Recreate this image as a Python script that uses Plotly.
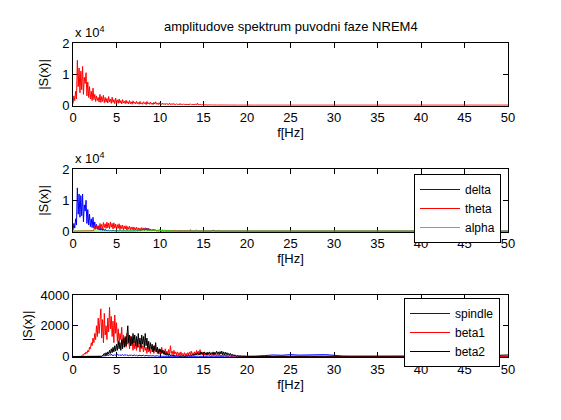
import numpy as np
import plotly.graph_objects as go

# frequency grid: fine 0.0-19.9 Hz (0.1 Hz step) + coarse tail 20-50 Hz (1 Hz step)
freq_fine = [round(i * 0.1, 1) for i in range(200)]
freq_tail = list(range(20, 51))
freq_hz = freq_fine + freq_tail

# ---------- panel 1: total spectrum ----------
total_fine = [
    500, 3000, 1500, 4500, 2000, 14500, 6000, 12000, 4000, 11000,
    5000, 12500, 3500, 9000, 7000, 10500, 3000, 7500, 2500, 6000,
    2000, 4500, 1500, 5500, 1800, 3500, 1200, 3000, 1500, 2500,
    1000, 3500, 900, 2800, 1200, 3200, 800, 2500, 1000, 2200,
    700, 2800, 1100, 2000, 600, 2600, 900, 1800, 500, 2300,
    800, 1700, 600, 2000, 700, 1500, 400, 1800, 700, 1300,
    500, 1600, 600, 1200, 400, 1500, 500, 1100, 300, 1400,
    600, 1000, 400, 1300, 500, 900, 300, 1200, 400, 800,
    300, 1100, 500, 900, 200, 1200, 400, 800, 300, 1000,
    300, 700, 200, 900, 400, 1100, 300, 700, 200, 800,
    300, 600, 200, 700, 300, 500, 150, 600, 250, 450,
    200, 700, 200, 400, 150, 600, 200, 350, 150, 500,
    200, 400, 100, 550, 150, 300, 100, 450, 150, 300,
    100, 400, 150, 250, 100, 350, 120, 250, 80, 400,
    100, 300, 80, 650, 100, 250, 80, 300, 60, 200,
    60, 150, 40, 120, 50, 100, 30, 90, 40, 80,
    30, 80, 20, 70, 30, 60, 20, 50, 20, 60,
    20, 50, 20, 40, 10, 50, 20, 40, 10, 30,
    20, 40, 10, 30, 20, 40, 10, 30, 10, 30,
    10, 30, 10, 20, 10, 30, 10, 20, 10, 20,
]
total_tail = [20, 10, 20, 10, 20, 10, 20, 10, 20, 10, 20, 10, 20, 10, 20, 10,
              20, 10, 20, 10, 20, 10, 20, 10, 20, 10, 20, 10, 20, 10, 20]

# ---------- panel 2: delta / theta / alpha ----------
delta_fine = [
    300, 2500, 1000, 4000, 2000, 14000, 5500, 12000, 4500, 11500,
    5000, 12000, 3000, 8500, 6500, 10000, 2500, 7000, 2000, 5500,
    1500, 4000, 1200, 4500, 1000, 3000, 800, 2200, 600, 1500,
    400, 1200, 300, 900, 200, 800, 150, 600, 100, 400,
    100, 300, 80, 250, 100, 200, 60, 250, 80, 150,
    60, 200, 50, 150, 80, 200, 40, 150, 60, 120,
    50, 150, 40, 120, 60, 150, 30, 100, 50, 120,
    40, 150, 50, 200, 60, 250, 80, 300, 100, 350,
    400, 900, 300, 1100, 500, 1000, 300, 800, 200, 600,
    150, 400, 100, 300, 80, 200, 50, 150, 40, 120,
    30, 80, 20, 60, 30, 50, 20, 40, 20, 40,
    20, 40, 10, 30, 20, 40, 10, 30, 20, 30,
    20, 30, 10, 30, 20, 30, 10, 20, 10, 30,
    10, 30, 10, 20, 10, 30, 10, 20, 10, 20,
    10, 20, 10, 30, 10, 20, 10, 20, 10, 20,
    10, 20, 10, 20, 10, 20, 10, 20, 10, 20,
    20, 350, 30, 60, 20, 40, 10, 30, 10, 20,
    10, 20, 10, 20, 10, 20, 10, 20, 10, 20,
    10, 20, 10, 20, 10, 20, 10, 20, 10, 20,
    10, 20, 10, 20, 10, 20, 10, 20, 10, 20,
]
delta_tail = [10] * 31

theta_fine = [
    0, 0, 0, 0, 0, 0, 0, 0, 0, 0,
    0, 0, 0, 0, 0, 0, 50, 0, 80, 0,
    50, 100, 50, 150, 300, 1500, 600, 2000, 800, 1800,
    500, 2500, 1000, 2200, 700, 2800, 1200, 2400, 900, 2900,
    1100, 2600, 800, 3000, 1300, 2500, 700, 2700, 1000, 2300,
    600, 2100, 900, 2400, 500, 1900, 800, 2000, 400, 1700,
    700, 1800, 300, 1500, 600, 1600, 400, 1300, 500, 1400,
    300, 1200, 400, 1300, 200, 1100, 400, 1000, 200, 1200,
    300, 900, 200, 1000, 300, 800, 150, 900, 200, 700,
    100, 600, 150, 700, 100, 500, 100, 400, 80, 500,
    50, 300, 60, 400, 50, 250, 40, 300, 50, 200,
    40, 350, 30, 200, 40, 150, 30, 250, 40, 150,
    30, 150, 20, 120, 30, 200, 20, 100, 30, 150,
    20, 100, 20, 150, 20, 500, 20, 100, 20, 80,
    20, 80, 300, 60, 20, 80, 20, 60, 20, 60,
    20, 50, 20, 60, 20, 40, 20, 50, 20, 40,
    20, 40, 20, 30, 20, 40, 20, 250, 20, 30,
    10, 30, 10, 20, 10, 30, 10, 20, 10, 20,
    10, 20, 10, 20, 10, 20, 10, 20, 10, 20,
    10, 20, 10, 20, 10, 20, 10, 20, 10, 20,
]
theta_tail = [10] * 31

alpha_fine = [
    0, 0, 0, 0, 0, 0, 0, 0, 0, 0,
    0, 0, 0, 0, 0, 0, 0, 0, 0, 0,
    0, 0, 0, 0, 0, 0, 0, 0, 0, 0,
    0, 0, 0, 0, 0, 0, 0, 0, 0, 0,
    0, 0, 0, 0, 0, 0, 0, 0, 0, 0,
    0, 0, 0, 0, 0, 0, 0, 0, 0, 0,
    0, 0, 0, 0, 0, 0, 0, 0, 0, 0,
    10, 10, 10, 10, 10, 10, 10, 10, 10, 10,
    20, 50, 30, 80, 40, 100, 50, 120, 40, 150,
    60, 200, 80, 300, 100, 250, 60, 350, 100, 300,
    80, 400, 100, 500, 150, 300, 80, 250, 60, 200,
    50, 150, 40, 100, 30, 80, 20, 60, 20, 40,
    20, 10, 20, 10, 20, 10, 20, 10, 20, 10,
    20, 10, 20, 10, 20, 10, 20, 10, 20, 10,
    20, 10, 20, 10, 20, 10, 20, 10, 20, 10,
    20, 10, 20, 10, 20, 10, 20, 10, 20, 10,
    20, 10, 20, 10, 20, 10, 20, 10, 20, 10,
    20, 10, 20, 10, 20, 10, 20, 10, 20, 10,
    20, 10, 20, 10, 20, 10, 20, 10, 20, 10,
    20, 10, 20, 10, 20, 10, 20, 10, 20, 10,
]
alpha_tail = [10] * 31

# ---------- panel 3: spindle / beta1 / beta2 ----------
spindle_fine = [
    0, 0, 0, 0, 0, 0, 0, 0, 0, 0,
    0, 0, 0, 0, 0, 0, 0, 0, 0, 0,
    0, 0, 0, 0, 0, 0, 0, 0, 0, 0,
    0, 0, 0, 20, 50, 30, 60, 40, 80, 50,
    100, 60, 120, 80, 150, 70, 100, 60, 120, 80,
    100, 150, 80, 120, 60, 100, 80, 130, 60, 100,
    80, 120, 60, 100, 50, 90, 70, 110, 50, 80,
    60, 100, 50, 80, 40, 70, 60, 90, 40, 70,
    50, 80, 40, 60, 30, 70, 40, 60, 30, 50,
    40, 60, 30, 50, 20, 40, 30, 50, 20, 30,
    20, 10, 20, 10, 20, 10, 20, 10, 20, 10,
    20, 10, 20, 10, 20, 10, 20, 10, 20, 10,
    20, 10, 20, 10, 20, 10, 20, 10, 20, 10,
    20, 10, 20, 10, 20, 10, 20, 10, 20, 10,
    20, 10, 20, 10, 20, 10, 20, 10, 20, 10,
    20, 10, 20, 10, 20, 10, 20, 10, 20, 10,
    20, 10, 20, 10, 20, 10, 20, 10, 20, 10,
    20, 10, 20, 10, 20, 10, 20, 10, 20, 10,
    20, 10, 20, 10, 20, 10, 20, 10, 20, 10,
    20, 10, 20, 10, 20, 10, 20, 10, 20, 10,
]
spindle_tail = [10, 20, 60, 100, 80, 120, 90, 110, 100, 120, 80, 20, 10, 10, 5, 5,
                5, 5, 5, 5, 5, 5, 5, 5, 5, 5, 5, 5, 5, 5, 5]

beta1_fine = [
    0, 0, 0, 0, 0, 0, 0, 0, 0, 0,
    50, 100, 80, 200, 150, 300, 200, 400, 300, 600,
    500, 900, 700, 1200, 900, 1500, 1100, 2000, 1300, 2500,
    1500, 2200, 3100, 1200, 2400, 900, 2800, 1400, 2000, 1100,
    2500, 1600, 3200, 1800, 2600, 1300, 2300, 900, 2700, 1500,
    2200, 1000, 1800, 800, 1500, 1100, 1900, 700, 1400, 900,
    1200, 600, 1500, 800, 1100, 500, 1300, 700, 1000, 400,
    1000, 500, 900, 400, 1100, 600, 800, 300, 900, 500,
    700, 300, 800, 400, 600, 200, 700, 300, 500, 200,
    600, 300, 500, 200, 700, 300, 500, 200, 400, 150,
    500, 200, 600, 250, 400, 150, 500, 200, 350, 150,
    450, 150, 700, 200, 350, 100, 400, 150, 300, 100,
    300, 100, 250, 80, 300, 100, 200, 60, 250, 80,
    200, 80, 250, 100, 300, 120, 350, 100, 250, 80,
    300, 120, 400, 150, 350, 100, 450, 150, 300, 100,
    250, 80, 200, 60, 250, 80, 150, 50, 200, 60,
    150, 50, 200, 60, 150, 40, 180, 50, 120, 40,
    100, 30, 150, 40, 120, 30, 100, 20, 80, 30,
    80, 20, 60, 20, 50, 10, 60, 20, 40, 10,
    30, 10, 40, 10, 30, 10, 20, 10, 20, 10,
]
beta1_tail = [10, 5, 10, 5, 10, 5, 10, 5, 10, 5, 10, 5, 10, 20, 5, 10,
              5, 30, 5, 10, 5, 10, 5, 10, 5, 10, 5, 10, 5, 20, 10]

beta2_fine = [
    0, 0, 0, 0, 0, 0, 0, 0, 0, 0,
    0, 0, 0, 0, 0, 0, 0, 0, 0, 0,
    0, 0, 0, 0, 0, 0, 0, 0, 0, 0,
    0, 0, 0, 0, 50, 100, 200, 80, 250, 100,
    300, 150, 400, 200, 500, 250, 600, 300, 700, 350,
    800, 400, 1000, 500, 900, 400, 1100, 500, 1200, 600,
    1300, 700, 1500, 2000, 900, 1400, 700, 1300, 800, 1500,
    900, 1400, 700, 1300, 600, 1500, 800, 1200, 600, 1400,
    800, 1300, 600, 1500, 700, 1200, 500, 1000, 400, 900,
    500, 800, 300, 700, 400, 900, 300, 600, 200, 500,
    300, 450, 200, 400, 150, 350, 100, 250, 80, 200,
    60, 150, 50, 120, 40, 100, 30, 80, 30, 60,
    30, 60, 20, 50, 20, 40, 20, 50, 20, 40,
    20, 50, 30, 80, 40, 100, 50, 120, 60, 150,
    80, 200, 100, 250, 120, 200, 100, 300, 150, 250,
    120, 300, 150, 250, 100, 280, 150, 300, 120, 250,
    150, 300, 120, 280, 150, 350, 180, 300, 120, 320,
    150, 350, 120, 300, 100, 280, 120, 250, 100, 200,
    80, 200, 60, 150, 50, 120, 40, 80, 30, 60,
    20, 40, 10, 30, 10, 20, 10, 20, 10, 10,
]
beta2_tail = [5, 5, 5, 5, 5, 5, 5, 5, 5, 5, 5, 5, 5, 5, 5, 5,
              5, 5, 5, 5, 5, 5, 5, 5, 5, 5, 5, 30, 60, 80, 100]

title_text = "amplitudove spektrum puvodni faze NREM4"
x_ticks = [0, 5, 10, 15, 20, 25, 30, 35, 40, 45, 50]
y_ticks_1e4 = [0, 10000, 20000]
y_ticklabels_1e4 = ["0", "1", "2"]
y_ticks_3 = [0, 2000, 4000]

FONT = "Arial, Liberation Sans, Helvetica, sans-serif"

fig = go.Figure()

def add(name, fine, tail, color, axis, legend, show):
    fig.add_trace(go.Scatter(
        x=freq_hz, y=fine + tail, mode="lines", name=name,
        line=dict(color=color, width=1),
        xaxis="x" + axis, yaxis="y" + axis,
        showlegend=show, legend=legend,
    ))

add("total", total_fine, total_tail, "#ff0000", "", "legend", False)
add("delta", delta_fine, delta_tail, "#0000ff", "2", "legend", True)
add("theta", theta_fine, theta_tail, "#ff0000", "2", "legend", True)
add("alpha", alpha_fine, alpha_tail, "#00ff00", "2", "legend", True)
add("spindle", spindle_fine, spindle_tail, "#0000ff", "3", "legend2", True)
add("beta1", beta1_fine, beta1_tail, "#ff0000", "3", "legend2", True)
add("beta2", beta2_fine, beta2_tail, "#000000", "3", "legend2", True)

xdom = [73 / 561, 508 / 561]
ydoms = [
    [1 - 105.7 / 420, 1 - 43.3 / 420],
    [1 - 231.7 / 420, 1 - 169.3 / 420],
    [1 - 357.0 / 420, 1 - 295.0 / 420],
]

axis_common = dict(
    showline=True, linecolor="black", linewidth=1, mirror="ticks",
    ticks="inside", ticklen=5, tickcolor="black", tickwidth=1,
    showgrid=False, zeroline=False, automargin=False, layer="below traces",
    tickfont=dict(family=FONT, size=13, color="black"),
)

layout = dict(
    template="none",
    width=561, height=420,
    margin=dict(l=0, r=0, t=0, b=0, pad=0, autoexpand=False),
    paper_bgcolor="white", plot_bgcolor="white",
    font=dict(family=FONT, size=13, color="black"),
)
suffixes = ["", "2", "3"]
for i, s in enumerate(suffixes):
    xa = dict(axis_common, domain=xdom, range=[0, 50], tickvals=x_ticks,
              anchor="y" + s,
              title=dict(text="f[Hz]", standoff=3,
                         font=dict(family=FONT, size=13, color="black")))
    if i < 2:
        ya = dict(axis_common, domain=ydoms[i], range=[-160, 20000],
                  tickvals=y_ticks_1e4, ticktext=y_ticklabels_1e4)
    else:
        ya = dict(axis_common, domain=ydoms[i], range=[-32, 4000],
                  tickvals=y_ticks_3)
    ya.update(anchor="x" + s,
              title=dict(text="|S(x)|", standoff=10 if i < 2 else 4,
                         font=dict(family=FONT, size=13, color="black")))
    layout["xaxis" + s] = xa
    layout["yaxis" + s] = ya

legend_style = dict(
    xanchor="left", yanchor="top",
    bgcolor="white", bordercolor="black", borderwidth=1,
    font=dict(family=FONT, size=12, color="black"),
    tracegroupgap=0, itemwidth=40,
)
layout["legend"] = dict(legend_style, x=414 / 561, y=1 - 174 / 420)
layout["legend2"] = dict(legend_style, x=404 / 561, y=1 - 298 / 420)

annotations = [
    dict(text=title_text, x=(xdom[0] + xdom[1]) / 2, y=1 - 27 / 420,
         xref="paper", yref="paper", xanchor="center", yanchor="middle",
         showarrow=False, font=dict(family=FONT, size=13, color="black")),
]
for i in range(2):
    annotations.append(dict(
        text="x 10<sup>4</sup>", x=xdom[0], y=ydoms[i][1], xref="paper",
        yref="paper", xanchor="left", yanchor="bottom", yshift=1,
        showarrow=False, font=dict(family=FONT, size=13, color="black")))
layout["annotations"] = annotations

fig.update_layout(**layout)
fig.write_html("out.html", config={"displayModeBar": False},
               post_script="document.body.style.margin='0';document.body.style.padding='0';")
